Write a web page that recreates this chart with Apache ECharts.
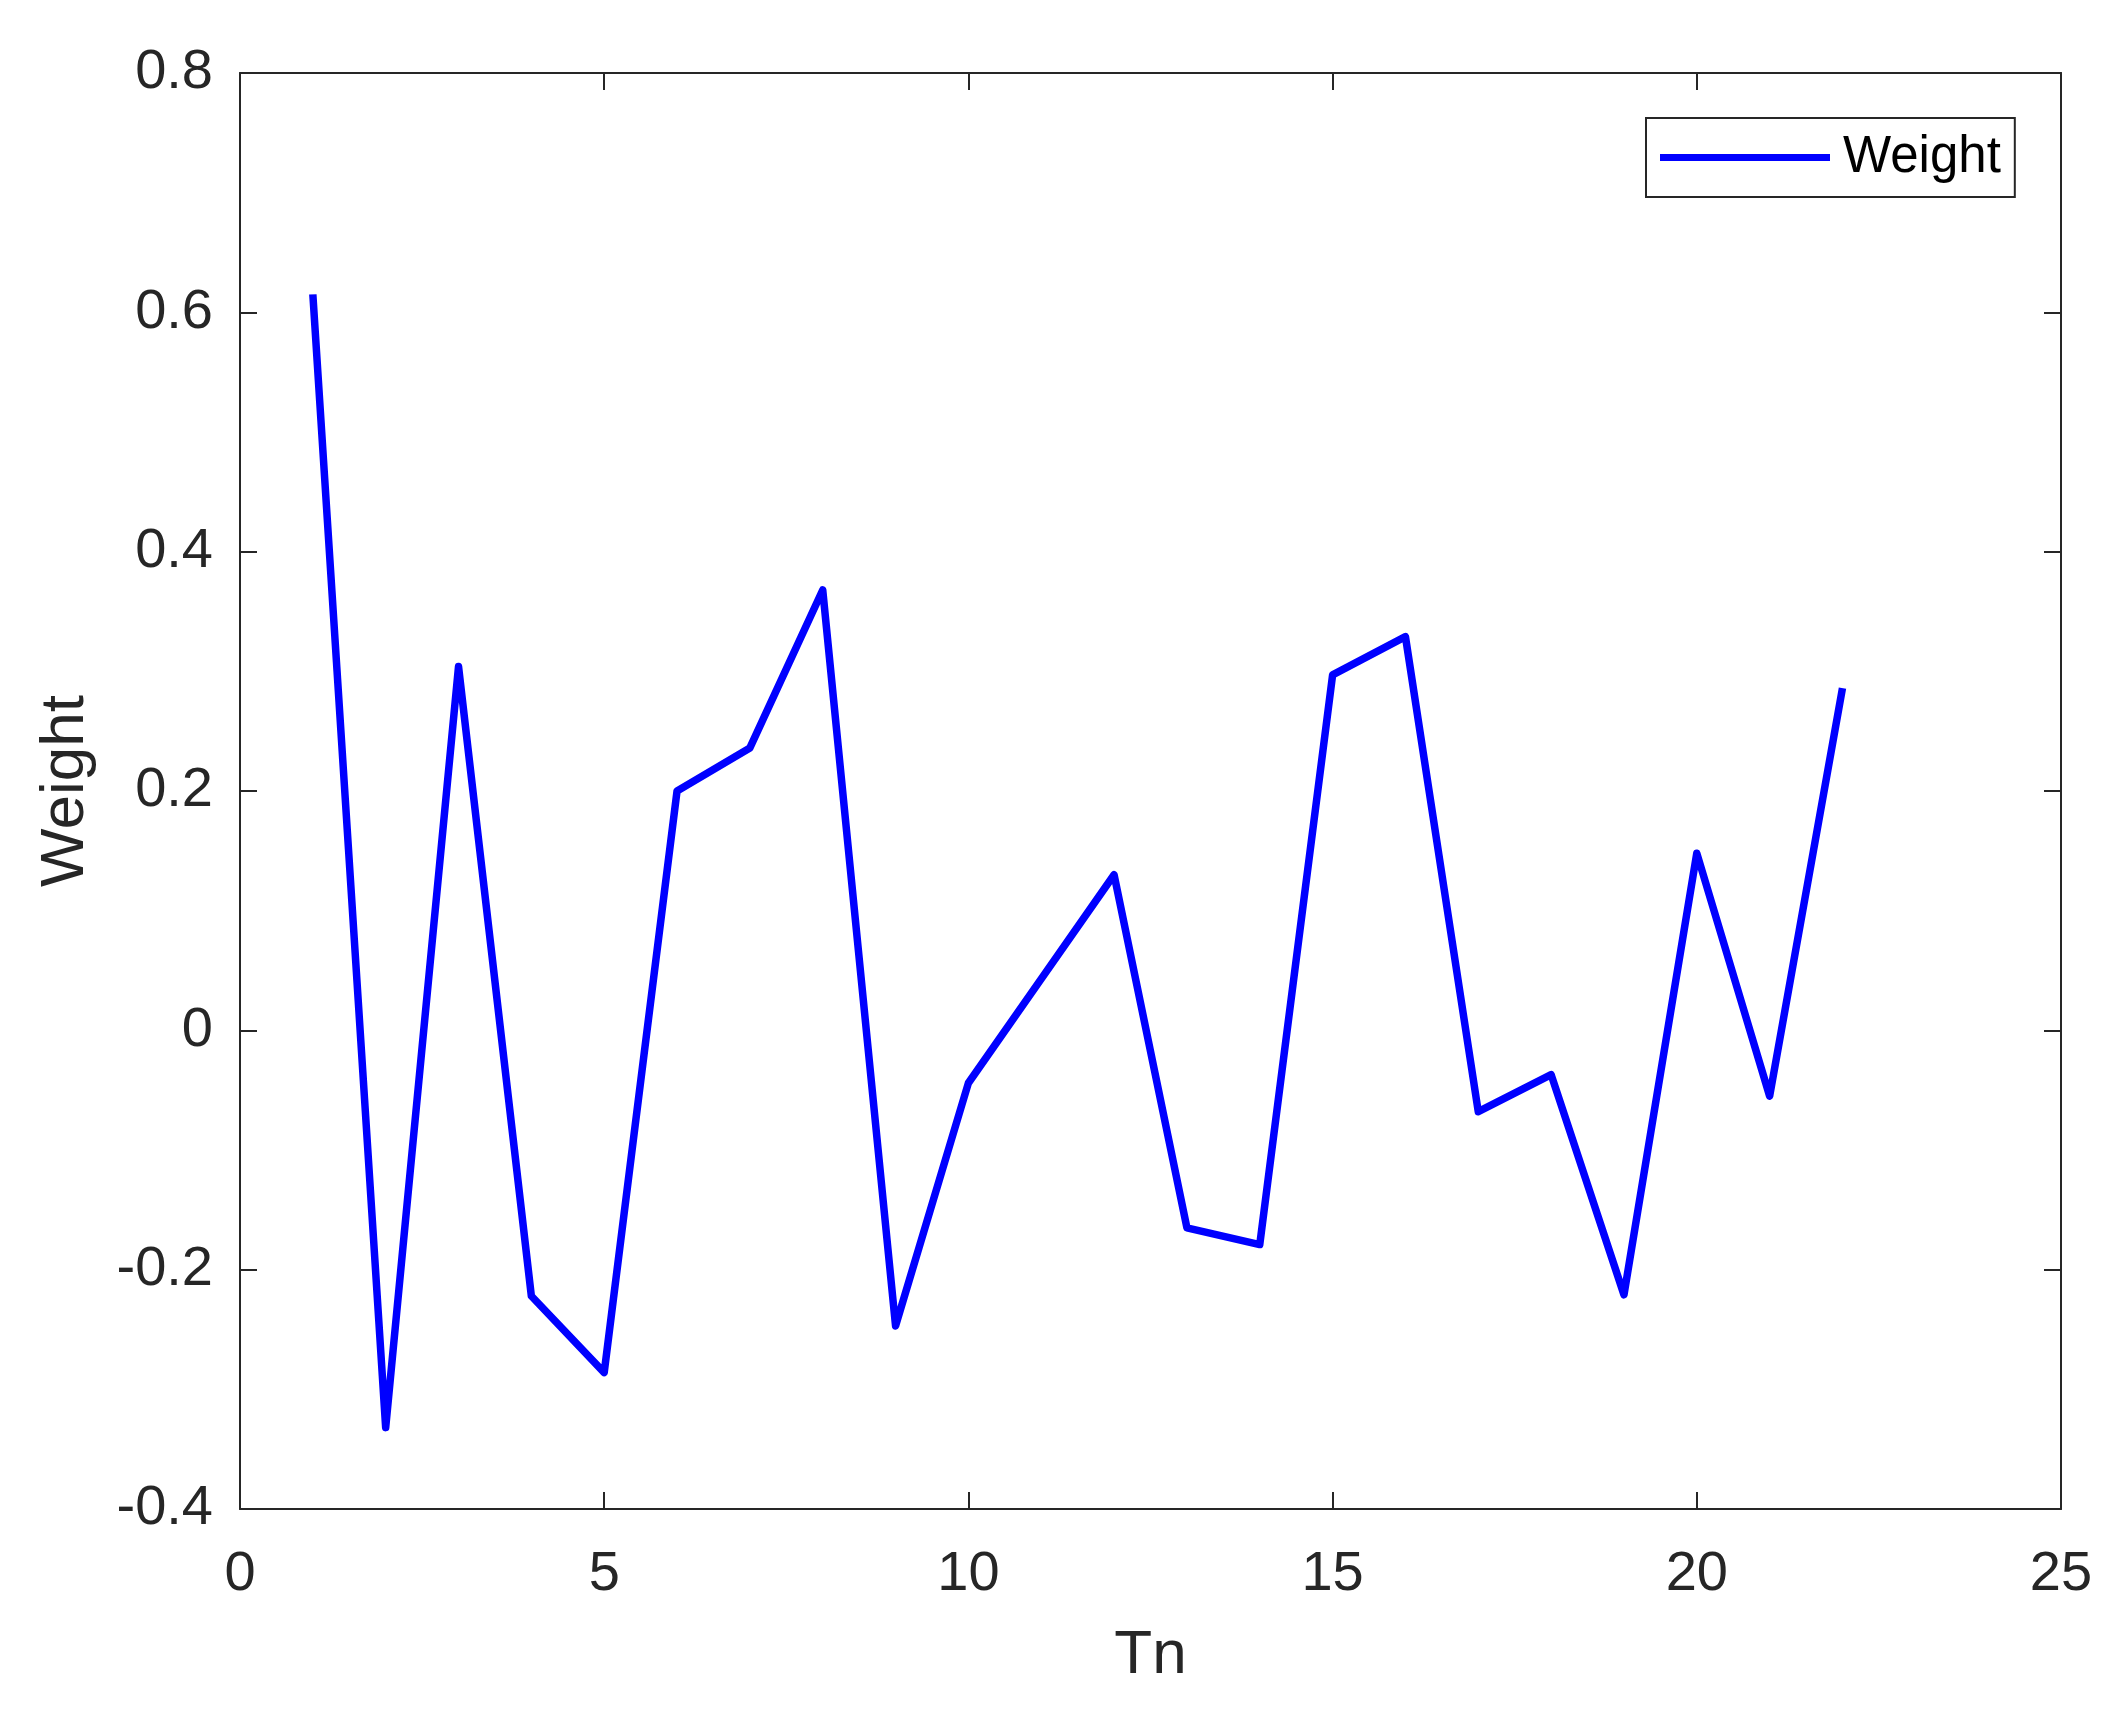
<!DOCTYPE html>
<html>
<head>
<meta charset="utf-8">
<title>Weight</title>
<script src="https://cdn.jsdelivr.net/npm/echarts@6/dist/echarts.min.js"></script>
<style>
  html, body { margin: 0; padding: 0; background: #fff; }
  #chart { width: 2121px; height: 1715px; }
</style>
</head>
<body>
<div id="chart"></div>
<script>
const tn = [1, 2, 3, 4, 5, 6, 7, 8, 9, 10, 11, 12, 13, 14, 15, 16, 17, 18, 19, 20, 21, 22];
const weight = [0.615, -0.332, 0.304, -0.222, -0.286, 0.200, 0.236, 0.368, -0.247, -0.044,
  0.043, 0.130, -0.165, -0.179, 0.297, 0.329, -0.068, -0.037, -0.221, 0.148, -0.055, 0.286];

const font = 'Liberation Sans, Arial, Helvetica, sans-serif';
const ink = '#262626';

const chart = echarts.init(document.getElementById('chart'));

// shared look for the four sides of the box
const boxAxis = {
  axisLine: { show: true, onZero: false, lineStyle: { color: ink, width: 2 } },
  axisTick: { show: true, inside: true, length: 17, lineStyle: { color: ink, width: 2 } },
  splitLine: { show: false }
};

const option = {
  backgroundColor: '#fff',
  animation: false,
  grid: { left: 240, top: 73, width: 1821, height: 1436 },
  legend: {
    data: ['Weight'],
    left: 1646,
    top: 118,
    orient: 'horizontal',
    icon: 'rect',
    itemWidth: 170,
    itemHeight: 7,
    padding: [14, 14, 14, 14],
    borderColor: ink,
    borderWidth: 2,
    backgroundColor: '#fff',
    textStyle: { fontFamily: font, fontSize: 51, color: '#000', padding: [0, 0, 0, 8] }
  },
  xAxis: [
    Object.assign({
      type: 'value', min: 0, max: 25, interval: 5,
      name: 'Tn', nameLocation: 'middle', nameGap: 116,
      nameTextStyle: { fontFamily: font, fontSize: 62, color: ink },
      axisLabel: { fontFamily: font, fontSize: 56, color: ink, margin: 38 }
    }, boxAxis),
    Object.assign({
      type: 'value', min: 0, max: 25, interval: 5, position: 'top',
      axisLabel: { show: false }
    }, boxAxis)
  ],
  yAxis: [
    Object.assign({
      type: 'value', min: -0.4, max: 0.8, interval: 0.2,
      name: 'Weight', nameLocation: 'middle', nameGap: 143, nameRotate: 90,
      nameTextStyle: { fontFamily: font, fontSize: 62, color: ink },
      axisLabel: { fontFamily: font, fontSize: 56, color: ink, margin: 27 }
    }, boxAxis),
    Object.assign({
      type: 'value', min: -0.4, max: 0.8, interval: 0.2, position: 'right',
      axisLabel: { show: false }
    }, boxAxis)
  ],
  series: [{
    name: 'Weight',
    type: 'line',
    data: tn.map((x, i) => [x, weight[i]]),
    showSymbol: false,
    symbol: 'none',
    itemStyle: { color: '#0000ff' },
    lineStyle: { color: '#0000ff', width: 7.5, join: 'round', cap: 'butt' },
    clip: false
  }]
};

chart.setOption(option);
</script>
</body>
</html>
